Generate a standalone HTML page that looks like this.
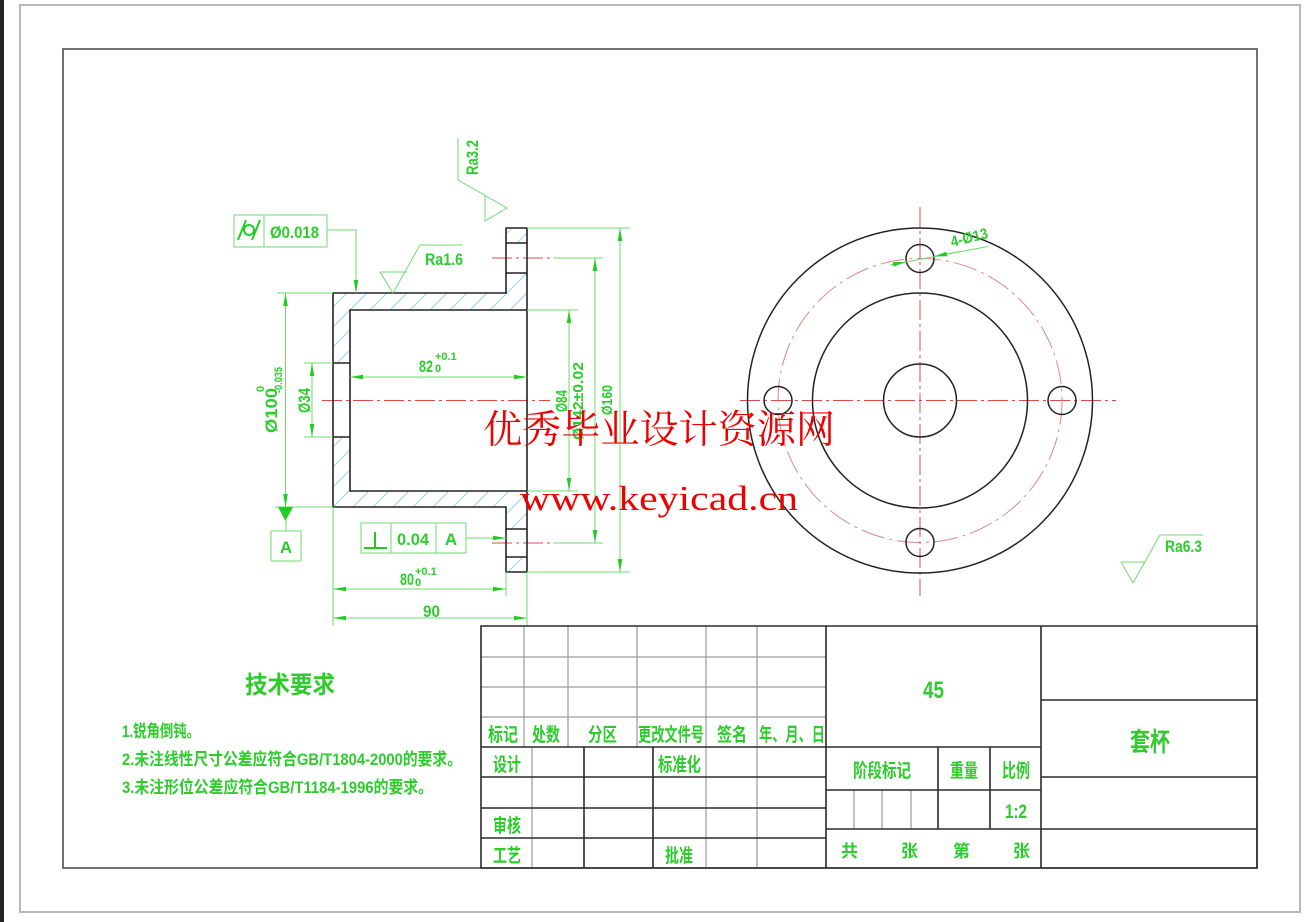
<!DOCTYPE html>
<html><head><meta charset="utf-8"><style>
html,body{margin:0;padding:0;background:#fff;}
svg{display:block;}
</style></head><body>
<svg width="1315" height="922" viewBox="0 0 1315 922" xmlns="http://www.w3.org/2000/svg">
<defs>
<marker id="a" viewBox="-14 -3 14 6" refX="0" refY="0" markerWidth="14" markerHeight="6" markerUnits="userSpaceOnUse" orient="auto-start-reverse" overflow="visible"><path d="M0,0 L-13,-2.3 L-13,2.3 Z" fill="#22cc22"/></marker>
<pattern id="h" patternUnits="userSpaceOnUse" width="20" height="20"><path d="M0,20 L20,0 M-5,5 L5,-5 M15,25 L25,15" stroke="#93d9ea" stroke-width="1"/></pattern>
</defs>
<rect width="1315" height="922" fill="#fff"/>
<rect x="0" y="0" width="4" height="922" fill="#222"/>
<rect x="20" y="5" width="1280" height="907" fill="none" stroke="#b8b8b8" stroke-width="2"/>
<rect x="63" y="49" width="1194" height="819" fill="none" stroke="#444" stroke-width="1.5"/>

<!-- hatch -->
<path fill="url(#h)" fill-rule="evenodd" d="M333,293 H506 V228 H527 V310 H350 V363 H333 Z M506,243 H527 V273 H506 Z M333,437 H350 V491 H527 V572 H506 V507 H333 Z M506,529 H527 V557 H506 Z"/>

<!-- red centerlines -->
<g stroke="#e04848" stroke-width="1" stroke-dasharray="20 4 3 4" fill="none">
<line x1="322" y1="400.5" x2="550" y2="400.5"/>
<line x1="492" y1="258" x2="553" y2="258"/>
<line x1="492" y1="543" x2="553" y2="543"/>
<line x1="920" y1="207" x2="920" y2="596"/>
<line x1="740" y1="400.5" x2="1116" y2="400.5"/>
<circle cx="920" cy="400.5" r="142" stroke-dasharray="24 5 3 5" stroke="#d88"/>
</g>

<!-- section outline -->
<g stroke="#222" stroke-width="1.6" fill="none">
<path d="M333,293 H506 V228 H527 V572 H506 V507 H333 Z"/>
<path d="M527,310 H350 V491 H527"/>
<path d="M333,363 H350 M333,437 H350 M506,243 H527 M506,273 H527 M506,529 H527 M506,557 H527"/>
</g>

<!-- right view -->
<g stroke="#222" stroke-width="1.5" fill="none">
<circle cx="920" cy="400.5" r="172.5"/>
<circle cx="920" cy="400.5" r="107.5"/>
<circle cx="920" cy="400.5" r="36.5"/>
<circle cx="920" cy="258.5" r="14"/>
<circle cx="920" cy="542.5" r="14"/>
<circle cx="778" cy="400.5" r="14"/>
<circle cx="1062" cy="400.5" r="14"/>
</g>

<!-- dimension lines -->
<g stroke="#6fdc6f" stroke-width="1" fill="none">
<path d="M277,293 H333 M275,507 H333 M304,363 H333 M304,437 H333"/>
<path d="M527,310 H578 M527,491 H578 M553,258 H603 M553,543 H603 M527,228 H630 M527,572 H630"/>
<path d="M333,507 V626 M506,572 V596 M527,572 V626"/>
<path d="M327,230 H356 V280"/>
<path d="M466,538 H495"/>
<path d="M890,265 L988,246.5"/>
<path d="M380,272 H407 M393,293 L380,272 M393,293 L420,245 H463"/>
<path d="M458,138 V180 L507,208 L485,221 V195"/>
<path d="M1121,562 H1145 M1133,583 L1121,562 M1133,583 L1160,535 H1203"/>
<path d="M286,520 V531"/>
<rect x="271" y="531" width="30" height="30"/>
<rect x="234" y="215" width="93" height="32"/>
<path d="M264,215 V247"/>
<rect x="361" y="523" width="105" height="30"/>
<path d="M391,523 V553 M436,523 V553"/>
</g>
<g stroke="#6fdc6f" stroke-width="1" fill="none" marker-start="url(#a)" marker-end="url(#a)">
<line x1="285.5" y1="293" x2="285.5" y2="507"/>
<line x1="312" y1="363" x2="312" y2="437"/>
<line x1="350" y1="377" x2="527" y2="377"/>
<line x1="569" y1="310" x2="569" y2="491"/>
<line x1="595" y1="258" x2="595" y2="543"/>
<line x1="620" y1="228" x2="620" y2="572"/>
<line x1="333" y1="589" x2="506" y2="589"/>
<line x1="333" y1="618" x2="527" y2="618"/>
</g>
<g stroke="#6fdc6f" stroke-width="1" fill="none" marker-end="url(#a)">
<line x1="356" y1="270" x2="356" y2="293"/>
<line x1="480" y1="538" x2="506" y2="538"/>
<line x1="890" y1="265" x2="906" y2="262"/>
<line x1="960" y1="251.5" x2="934" y2="256.5"/>
</g>
<path d="M278,507 H293 L285.5,521 Z" fill="#22cc22"/>
<g stroke="#22cc22" stroke-width="2" fill="none">
<circle cx="249" cy="230" r="5"/>
<path d="M238,240 L246,220 M252,240 L260,220"/>
<path d="M375,532 V548 M364,548 H387"/>
</g>

<!-- green text -->
<g fill="#2ccc2c" font-weight="bold" font-family="'Liberation Sans Narrow','Liberation Sans','Noto Sans CJK SC',sans-serif">
<text x="270" y="238" font-size="17" textLength="49" lengthAdjust="spacingAndGlyphs">Ø0.018</text>
<text x="397" y="545" font-size="17" textLength="32" lengthAdjust="spacingAndGlyphs">0.04</text>
<text x="451" y="545" font-size="17" text-anchor="middle">A</text>
<text x="286" y="553" font-size="17" text-anchor="middle">A</text>
<text x="419" y="372" font-size="17" textLength="14" lengthAdjust="spacingAndGlyphs">82</text>
<text x="435" y="360" font-size="11">+0.1</text>
<text x="435" y="372" font-size="11">0</text>
<text x="400" y="585" font-size="17" textLength="14" lengthAdjust="spacingAndGlyphs">80</text>
<text x="415" y="575" font-size="11">+0.1</text>
<text x="415" y="586" font-size="11">0</text>
<text x="423" y="617" font-size="17" textLength="17" lengthAdjust="spacingAndGlyphs">90</text>
<text transform="translate(277,433) rotate(-90)" font-size="17" textLength="45" lengthAdjust="spacingAndGlyphs">Ø100</text>
<text transform="translate(264,392) rotate(-90)" font-size="11">0</text>
<text transform="translate(282,393) rotate(-90)" font-size="11" textLength="26" lengthAdjust="spacingAndGlyphs">-0.035</text>
<text transform="translate(310,413) rotate(-90)" font-size="17" textLength="25" lengthAdjust="spacingAndGlyphs">Ø34</text>
<text transform="translate(567,412) rotate(-90)" font-size="16" textLength="22" lengthAdjust="spacingAndGlyphs">Ø84</text>
<text transform="translate(583,440) rotate(-90)" font-size="15" textLength="78" lengthAdjust="spacingAndGlyphs">Ø142±0.02</text>
<text transform="translate(612,415) rotate(-90)" font-size="15" textLength="30" lengthAdjust="spacingAndGlyphs">Ø160</text>
<text transform="translate(478,175) rotate(-90)" font-size="17" textLength="35" lengthAdjust="spacingAndGlyphs">Ra3.2</text>
<text x="425" y="265" font-size="17" textLength="38" lengthAdjust="spacingAndGlyphs">Ra1.6</text>
<text x="1165" y="552" font-size="17" textLength="37" lengthAdjust="spacingAndGlyphs">Ra6.3</text>
<text transform="translate(952,247) rotate(-14)" font-size="15" textLength="38" lengthAdjust="spacingAndGlyphs">4-Ø13</text>

<text x="245" y="693" font-size="24" textLength="90" lengthAdjust="spacingAndGlyphs">技术要求</text>
<text x="122" y="737" font-size="17" textLength="78" lengthAdjust="spacingAndGlyphs">1.锐角倒钝。</text>
<text x="122" y="765" font-size="17" textLength="340" lengthAdjust="spacingAndGlyphs">2.未注线性尺寸公差应符合GB/T1804-2000的要求。</text>
<text x="122" y="793" font-size="17" textLength="311" lengthAdjust="spacingAndGlyphs">3.未注形位公差应符合GB/T1184-1996的要求。</text>

<text x="488" y="741" font-size="19" textLength="30" lengthAdjust="spacingAndGlyphs">标记</text>
<text x="532" y="741" font-size="19" textLength="28" lengthAdjust="spacingAndGlyphs">处数</text>
<text x="588" y="741" font-size="19" textLength="29" lengthAdjust="spacingAndGlyphs">分区</text>
<text x="638" y="741" font-size="19" textLength="66" lengthAdjust="spacingAndGlyphs">更改文件号</text>
<text x="717" y="741" font-size="19" textLength="30" lengthAdjust="spacingAndGlyphs">签名</text>
<text x="759" y="741" font-size="19" textLength="66" lengthAdjust="spacingAndGlyphs">年、月、日</text>
<text x="493" y="771" font-size="19" textLength="28" lengthAdjust="spacingAndGlyphs">设计</text>
<text x="658" y="771" font-size="19" textLength="43" lengthAdjust="spacingAndGlyphs">标准化</text>
<text x="493" y="832" font-size="19" textLength="28" lengthAdjust="spacingAndGlyphs">审核</text>
<text x="493" y="862" font-size="19" textLength="28" lengthAdjust="spacingAndGlyphs">工艺</text>
<text x="665" y="862" font-size="19" textLength="28" lengthAdjust="spacingAndGlyphs">批准</text>
<text x="923" y="698" font-size="24" textLength="21" lengthAdjust="spacingAndGlyphs">45</text>
<text x="1130" y="751" font-size="26" textLength="40" lengthAdjust="spacingAndGlyphs">套杯</text>
<text x="853" y="777" font-size="19" textLength="58" lengthAdjust="spacingAndGlyphs">阶段标记</text>
<text x="950" y="777" font-size="19" textLength="28" lengthAdjust="spacingAndGlyphs">重量</text>
<text x="1002" y="777" font-size="19" textLength="28" lengthAdjust="spacingAndGlyphs">比例</text>
<text x="1005" y="818" font-size="19" textLength="22" lengthAdjust="spacingAndGlyphs">1:2</text>
<text x="841" y="857" font-size="17">共</text>
<text x="901" y="857" font-size="17">张</text>
<text x="953" y="857" font-size="17">第</text>
<text x="1013" y="857" font-size="17">张</text>
</g>

<!-- title block lines -->
<g stroke="#9a9a9a" stroke-width="1.2" fill="none">
<path d="M481,657 H826 M481,687 H826 M481,717 H826"/>
<path d="M524,626 V747 M568,626 V747 M637,626 V747 M706,626 V747 M757,626 V747"/>
<path d="M532,747 V868 M706,747 V868 M757,747 V868"/>
<path d="M854,790 V829 M882,790 V829 M911,790 V829"/>
</g>
<g stroke="#2a2a2a" stroke-width="1.6" fill="none">
<path d="M481,626 H1257 V868 H481 Z"/>
<path d="M481,747 H1041 M481,777 H826 M481,808 H826 M481,838 H826"/>
<path d="M584,747 V868 M653,747 V868"/>
<path d="M826,626 V868 M1041,626 V868"/>
<path d="M826,790 H1041 M826,829 H1041 M938,747 V829 M990,747 V829"/>
<path d="M1041,700 H1257 M1041,777 H1257 M1041,829 H1257"/>
</g>

<!-- watermark -->
<text x="483" y="443" font-size="39" fill="#ee0000" font-family="'Noto Serif CJK SC','Liberation Serif',serif" textLength="352" lengthAdjust="spacingAndGlyphs">优秀毕业设计资源网</text>
<text x="520" y="510" font-size="35" fill="#ee0000" font-family="'Liberation Serif',serif" textLength="278" lengthAdjust="spacingAndGlyphs">www.keyicad.cn</text>
</svg>
</body></html>
